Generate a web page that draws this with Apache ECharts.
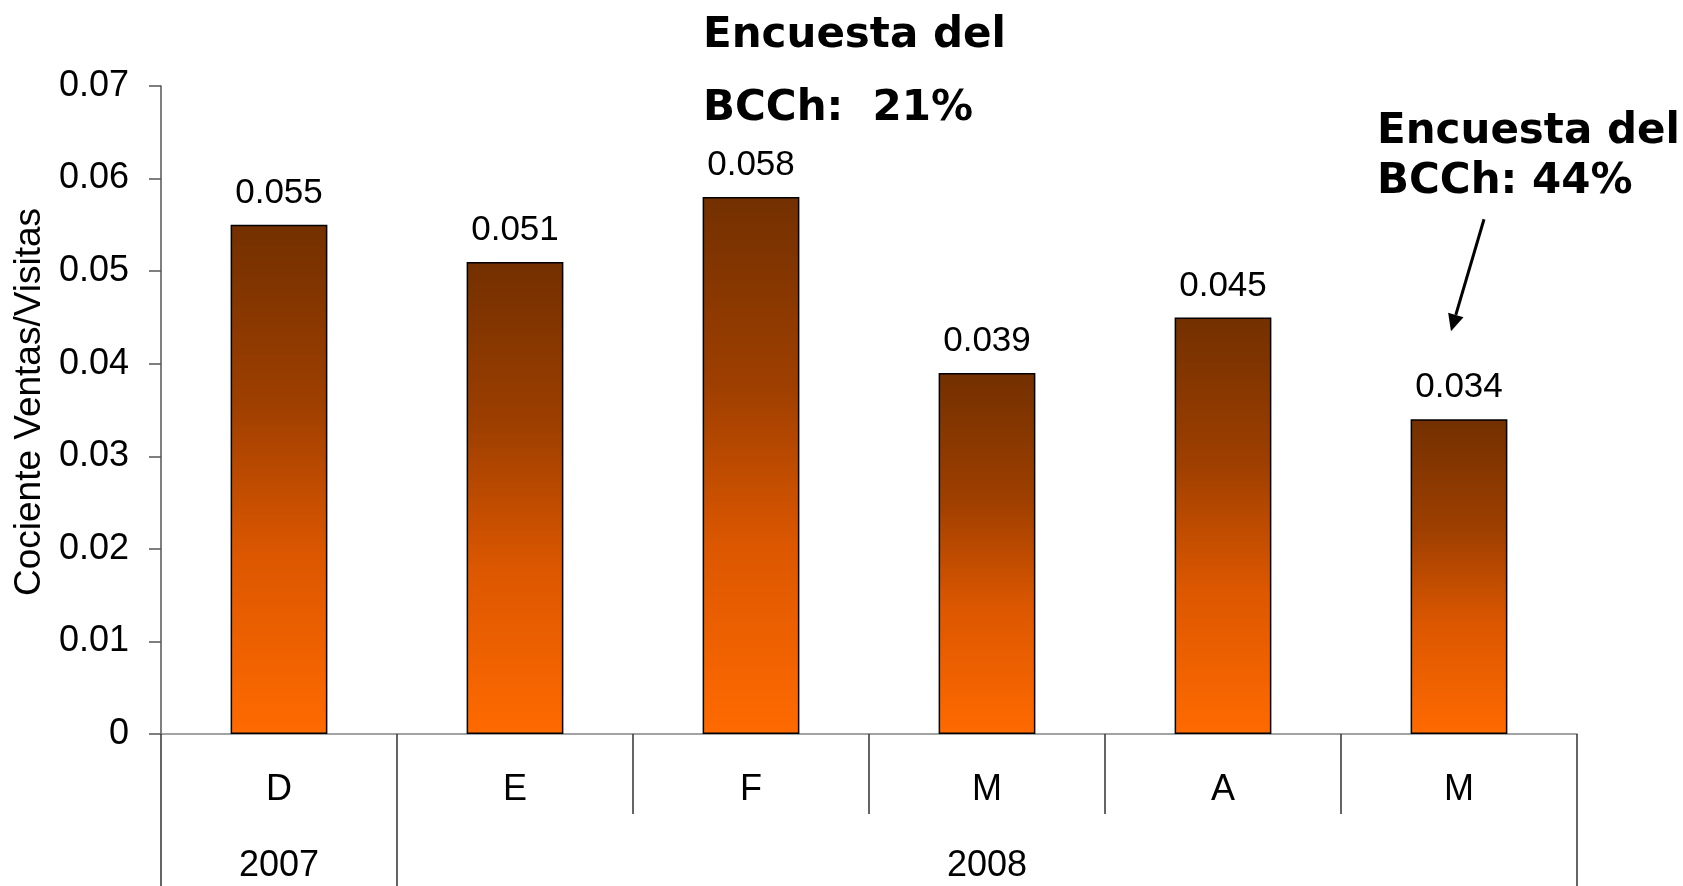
<!DOCTYPE html>
<html>
<head>
<meta charset="utf-8">
<script src="https://cdn.jsdelivr.net/npm/echarts@6/dist/echarts.min.js"></script>
<style>
  html, body { margin: 0; padding: 0; background: #fff; }
  #chart { width: 1683px; height: 886px; }
</style>
</head>
<body>
<div id="chart"></div>
<script>
// Monthly sales / visits ratio
const categories = ['D', 'E', 'F', 'M', 'A', 'M'];
const ratios = [0.055, 0.051, 0.058, 0.039, 0.045, 0.034];

// Year groups under the month labels: [first month index, end index]
const yearLabels = ['2007', '2008'];
const yearSpans = [[0, 1], [1, 6]];

// Value axis scale
const yMin = 0;
const yMax = 0.07;
const yStep = 0.01;

// Survey notes
const noteTop = ['Encuesta del', 'BCCh:  21%'];
const noteRight = ['Encuesta del', 'BCCh: 44%'];

const sansFont = '"Liberation Sans", Arial, sans-serif';
const boldFont = 'bold 42px "DejaVu Sans", Verdana, sans-serif';

const yearTicks = [];
yearSpans.forEach(function (s) {
  if (yearTicks.indexOf(s[0]) < 0) yearTicks.push(s[0]);
  if (yearTicks.indexOf(s[1]) < 0) yearTicks.push(s[1]);
});
const yearCenters = yearSpans.map(function (s) { return (s[0] + s[1]) / 2; });

const chart = echarts.init(document.getElementById('chart'), null, { renderer: 'canvas' });

chart.setOption({
  animation: false,
  backgroundColor: '#ffffff',
  grid: { left: 161, right: 106, top: 86, bottom: 152, containLabel: false },
  xAxis: [
    {
      type: 'category',
      data: categories,
      position: 'bottom',
      axisLine: { show: true, lineStyle: { color: '#858585', width: 1.5 } },
      axisTick: { show: true, length: 80, lineStyle: { color: '#333', width: 1.5 } },
      axisLabel: { color: '#000', fontSize: 36, fontFamily: sansFont, margin: 38 },
      splitLine: { show: false }
    },
    {
      type: 'value',
      min: 0,
      max: categories.length,
      position: 'bottom',
      offset: 0,
      axisLine: { show: false },
      axisTick: {
        show: true,
        customValues: yearTicks,
        length: 160,
        lineStyle: { color: '#333', width: 1.5 }
      },
      axisLabel: {
        show: true,
        customValues: yearCenters,
        color: '#000',
        fontSize: 36,
        fontFamily: sansFont,
        margin: 114,
        formatter: function (v) {
          const i = yearCenters.indexOf(v);
          return i >= 0 ? yearLabels[i] : '';
        }
      },
      splitLine: { show: false }
    }
  ],
  yAxis: {
    type: 'value',
    min: yMin,
    max: yMax,
    interval: yStep,
    name: 'Cociente Ventas/Visitas',
    nameLocation: 'middle',
    nameRotate: 90,
    nameGap: 112,
    nameTextStyle: { color: '#000', fontSize: 37, fontFamily: sansFont, padding: [0, 0, 0, 16] },
    axisLine: { show: true, lineStyle: { color: '#555', width: 1.5 } },
    axisTick: { show: true, length: 12, lineStyle: { color: '#555', width: 1.5 } },
    axisLabel: { color: '#000', fontSize: 36, fontFamily: sansFont, margin: 32 },
    splitLine: { show: false }
  },
  series: [
    {
      type: 'bar',
      data: ratios,
      barCategoryGap: '59%',
      itemStyle: {
        borderColor: '#000',
        borderWidth: 1.5,
        color: new echarts.graphic.LinearGradient(0, 0, 0, 1, [
          { offset: 0, color: '#733000' },
          { offset: 0.35, color: '#9e3f00' },
          { offset: 0.65, color: '#dc5700' },
          { offset: 1, color: '#ff6a00' }
        ])
      },
      label: {
        show: true,
        position: 'top',
        distance: 14,
        color: '#000',
        fontSize: 35,
        fontFamily: sansFont,
        formatter: function (p) { return p.value.toFixed(3); }
      }
    }
  ]
});

// Survey notes and the arrow pointing at the last month's bar
const last = ratios.length - 1;
const barTop = chart.convertToPixel({ seriesIndex: 0 }, [last, ratios[last]]);
const tip = [barTop[0] - 8, barTop[1] - 88];
const tail = [barTop[0] + 25, barTop[1] - 200];
const ang = Math.atan2(tip[1] - tail[1], tip[0] - tail[0]);
const headLen = 17, headHalf = 8;
const base = [tip[0] - headLen * Math.cos(ang), tip[1] - headLen * Math.sin(ang)];
const head = [
  tip,
  [base[0] + headHalf * Math.sin(ang), base[1] - headHalf * Math.cos(ang)],
  [base[0] - headHalf * Math.sin(ang), base[1] + headHalf * Math.cos(ang)]
];

function noteText(text, x, y) {
  return {
    type: 'text',
    style: {
      text: text, x: x, y: y, font: boldFont, fill: '#000',
      textAlign: 'left', textVerticalAlign: 'middle', align: 'left', verticalAlign: 'middle'
    }
  };
}

chart.setOption({
  graphic: [
    noteText(noteTop[0], 703, 36),
    noteText(noteTop[1], 703, 109),
    noteText(noteRight[0], 1377, 132),
    noteText(noteRight[1], 1377, 182),
    {
      type: 'line',
      shape: { x1: tail[0], y1: tail[1], x2: base[0], y2: base[1] },
      style: { stroke: '#000', lineWidth: 3 }
    },
    {
      type: 'polygon',
      shape: { points: head },
      style: { fill: '#000' }
    }
  ]
});
</script>
</body>
</html>
